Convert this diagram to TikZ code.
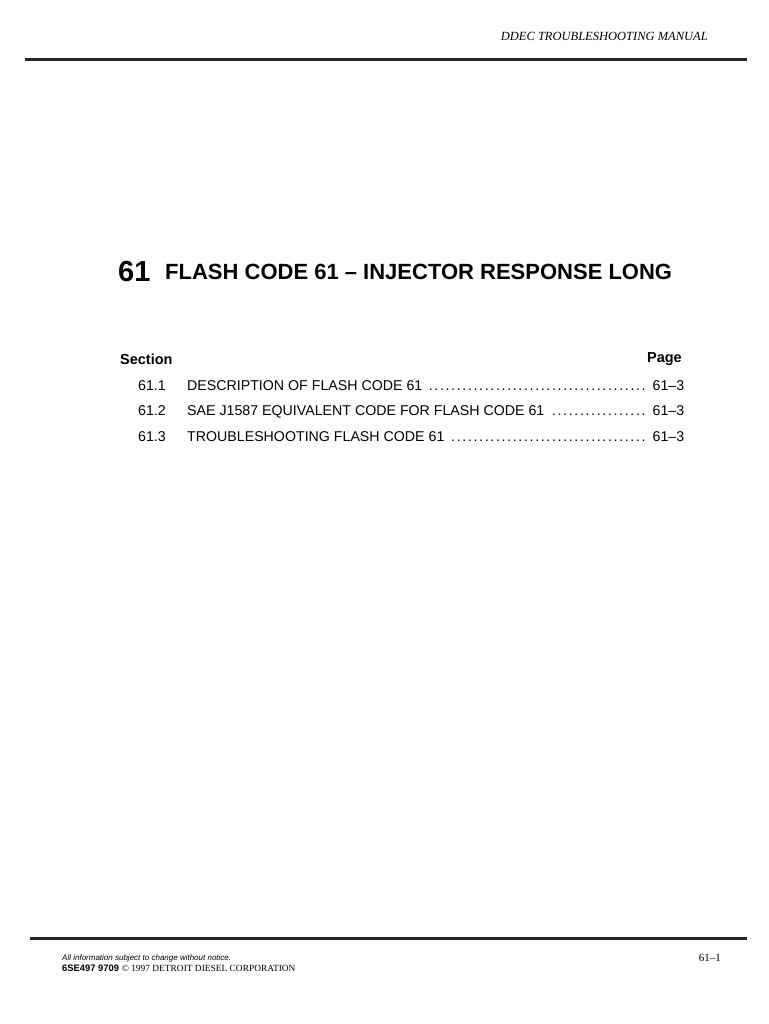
\documentclass[tikz,border=0pt]{standalone}
\usepackage{fontspec}
\setmainfont{Liberation Serif}
\setsansfont{Liberation Sans}
\newcommand{\tocdots}{\leaders\hbox to 5.6pt{\hss.\hss}\hfill}
\begin{document}
\begin{tikzpicture}[x=1pt,y=-1pt,
    rule/.style={line width=3pt,black!85},
    tocnum/.style={anchor=base west,inner sep=0pt,font=\sffamily\fontsize{14.2}{16}\selectfont},
    tocline/.style={anchor=base west,inner sep=0pt,font=\sffamily\fontsize{14.2}{16}\selectfont}]
  \useasboundingbox[fill=white] (0,0) rectangle (768,1024);
  % header
  \node[anchor=base east,inner sep=0pt,font=\itshape\fontsize{12.5}{14}\selectfont] (hdr) at (708,41) {DDEC TROUBLESHOOTING MANUAL};
  \draw[rule] (25,60) -- (747,60);
  % title
  \node[anchor=base west,inner sep=0pt,font=\sffamily\bfseries\fontsize{29}{32}\selectfont] (num) at (118,281) {61};
  \node[anchor=base west,inner sep=0pt,font=\sffamily\bfseries\fontsize{22}{26}\selectfont] (title) at (165,279) {FLASH CODE 61 -- INJECTOR RESPONSE LONG};
  % table of contents
  \node[anchor=base west,inner sep=0pt,font=\sffamily\bfseries\fontsize{14.5}{16}\selectfont] (sec) at (120,364) {Section};
  \node[anchor=base east,inner sep=0pt,font=\sffamily\bfseries\fontsize{14.5}{16}\selectfont] (pg) at (682,362) {Page};
  \foreach \n/\t/\y in {1/DESCRIPTION OF FLASH CODE 61/390,
      2/SAE J1587 EQUIVALENT CODE FOR FLASH CODE 61/415,
      3/TROUBLESHOOTING FLASH CODE 61/441} {
    \node[tocnum] (n\n) at (138,\y) {61.\n};
    \node[tocline] (t\n) at (187,\y) {\makebox[497pt][l]{\t\ \tocdots\ 61--3}};
  }
  % footer
  \draw[rule] (30,938) -- (747,938);
  \node[anchor=base west,inner sep=0pt,font=\sffamily\itshape\fontsize{8}{9}\selectfont] (note) at (62,960) {All information subject to change without notice.};
  \node[anchor=base west,inner sep=0pt,font=\fontsize{9.4}{11}\selectfont] (copy) at (62,971) {\sffamily\bfseries 6SE497 9709 \rmfamily\mdseries\copyright\ 1997 DETROIT DIESEL CORPORATION};
  \node[anchor=base east,inner sep=0pt,font=\fontsize{11}{13}\selectfont] (folio) at (721,961) {61--1};
\end{tikzpicture}
\end{document}
